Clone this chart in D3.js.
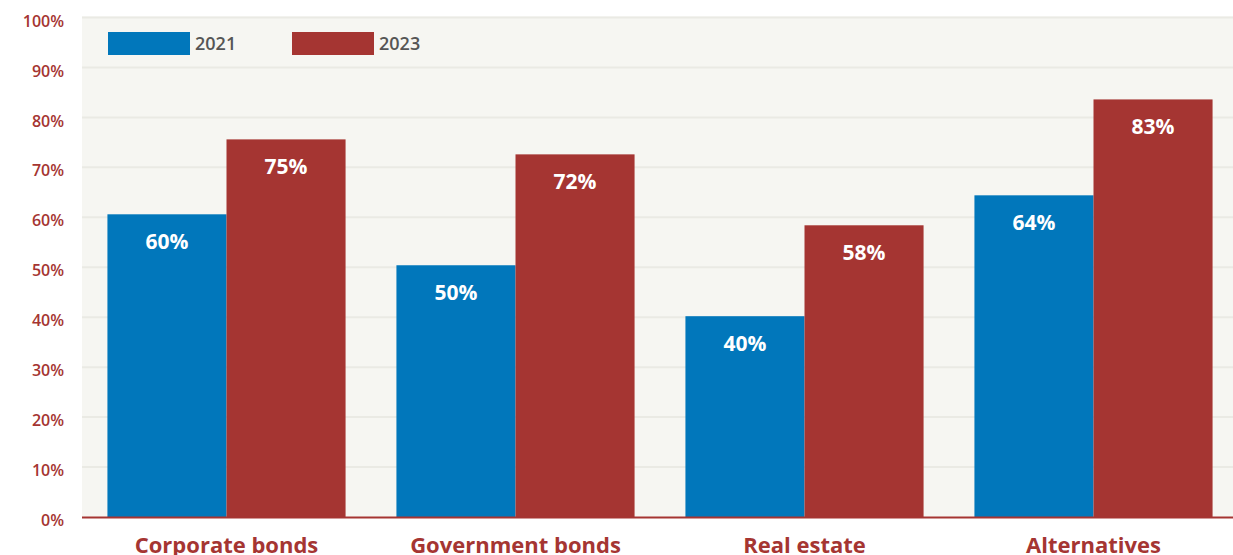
<!DOCTYPE html>
<html>
<head>
<meta charset="utf-8">
<script src="https://cdn.jsdelivr.net/npm/d3@7"></script>
<style>
html,body{margin:0;padding:0;background:#fff;}
svg{display:block;font-family:"Open Sans","Lato",sans-serif;}
</style>
</head>
<body>
<svg id="chart" width="1233" height="555"></svg>
<script>
const categories = ["Corporate bonds", "Government bonds", "Real estate", "Alternatives"];
const seriesNames = ["2021", "2023"];
// bar heights as drawn in the picture
const values2021 = [60.6, 50.4, 40.2, 64.4];
const values2023 = [75.6, 72.6, 58.4, 83.6];
// printed labels
const labels2021 = ["60%", "50%", "40%", "64%"];
const labels2023 = ["75%", "72%", "58%", "83%"];
const yTicks = [0, 10, 20, 30, 40, 50, 60, 70, 80, 90, 100];
const colors = ["#0177bb", "#a53532"];

(function () {
const svg = d3.select("#chart");
const W = 1233;
const mLeft = 82, mTop = 17.5, mBottom = 517;

const x0 = d3.scaleBand().domain(categories).range([mLeft, 1238]).paddingInner(0.176).paddingOuter(0.088);
const x1 = d3.scaleBand().domain(seriesNames).range([0, x0.bandwidth()]).padding(0);
const y = d3.scaleLinear().domain([0, 100]).range([mBottom, mTop]);

// plot background
svg.append("rect").attr("x", mLeft).attr("y", y(100) - 1).attr("width", W - mLeft).attr("height", mBottom - y(100) + 1).attr("fill", "#f6f6f2");

// gridlines
svg.append("g").selectAll("line").data(yTicks.filter(d => d > 0)).join("line")
  .attr("x1", mLeft).attr("x2", W)
  .attr("y1", d => y(d)).attr("y2", d => y(d))
  .attr("stroke", "#eaeae4").attr("stroke-width", 2);

// y axis labels
const yAxis = d3.axisLeft(y).tickValues(yTicks).tickFormat(d => d + "%").tickSize(0).tickPadding(0);
const ya = svg.append("g").attr("transform", `translate(${mLeft - 18},0)`).call(yAxis);
ya.select(".domain").remove();
ya.selectAll("text").attr("fill", "#a53532").attr("font-size", 16).attr("font-weight", 600)
  .attr("font-family", "'Open Sans', sans-serif").attr("dy", "0.35em").attr("y", 3);

// bars
const data = categories.map((c, i) => ({cat: c, vals: [values2021[i], values2023[i]], labs: [labels2021[i], labels2023[i]]}));
const groups = svg.append("g").selectAll("g").data(data).join("g")
  .attr("transform", d => `translate(${x0(d.cat)},0)`);
const items = d => d.vals.map((v, j) => ({v, lab: d.labs[j], s: seriesNames[j], j}));
groups.selectAll("rect").data(items).join("rect")
  .attr("x", d => x1(d.s)).attr("width", x1.bandwidth())
  .attr("y", d => y(d.v)).attr("height", d => mBottom - y(d.v))
  .attr("fill", d => colors[d.j]);
groups.selectAll("text").data(items).join("text")
  .attr("x", d => x1(d.s) + x1.bandwidth() / 2)
  .attr("y", d => y(d.v) + 35)
  .attr("text-anchor", "middle").attr("fill", "#fff")
  .attr("font-size", 21).attr("font-weight", 700)
  .text(d => d.lab);

// baseline axis
const xAxis = d3.axisBottom(x0).tickSize(0).tickPadding(0);
const xa = svg.append("g").attr("transform", `translate(0,${mBottom})`).call(xAxis);
xa.select(".domain").remove();
svg.append("line").attr("x1", mLeft).attr("x2", W).attr("y1", mBottom + 0.5).attr("y2", mBottom + 0.5)
  .attr("stroke", "#a53532").attr("stroke-width", 2);
xa.selectAll("text").attr("fill", "#a53532").attr("font-size", 22).attr("font-weight", 700)
  .attr("font-family", "'Open Sans', sans-serif").attr("y", 36).attr("dy", 0);

// legend
const legend = svg.append("g");
const legX = [108, 292];
seriesNames.forEach((s, i) => {
  legend.append("rect").attr("x", legX[i]).attr("y", 32).attr("width", 82).attr("height", 23).attr("fill", colors[i]);
  legend.append("text").attr("x", legX[i] + 87).attr("y", 50).attr("fill", "#555555")
    .attr("font-size", 18).attr("font-weight", 600).text(s);
});
})();
</script>
</body>
</html>
